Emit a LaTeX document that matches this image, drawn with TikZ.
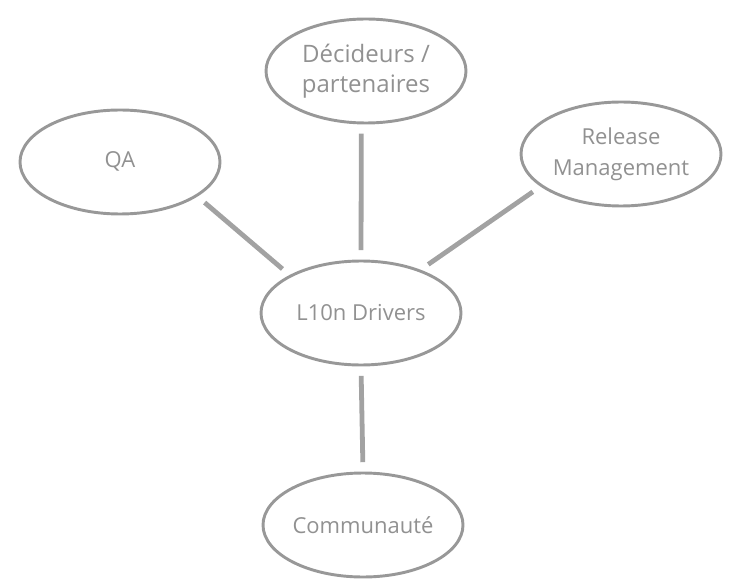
\documentclass[tikz,border=0pt]{standalone}
\usepackage{fontspec}
\setmainfont{Open Sans}
\usetikzlibrary{shapes.geometric}
\definecolor{traitgris}{RGB}{152,152,152}
\definecolor{textegris}{RGB}{145,145,145}
\begin{document}
\begin{tikzpicture}[x=0.75pt,y=-0.75pt,
bulle/.style={ ellipse,minimum width=150pt,minimum height=78pt,inner sep=0pt,line width=2.2pt,draw=traitgris,text=textegris,align=center,font=\fontsize{16.5}{23}\selectfont,
}]
\useasboundingbox (0,0) rectangle (737,584);
\node[bulle](qa) at (120,162){\raisebox{3pt}{QA}};
\node[bulle,font=\fontsize{18}{22.5}\selectfont](decideurs) at (366,71){Décideurs /\\partenaires};
\node[bulle](release) at (621,154){Release\\Management};

\node[bulle](drivers) at (361,313){L10n Drivers};

\node[bulle](communaute) at (363,525){Communauté};

\begin{scope}[line width=3.6pt, draw=traitgris!90!white, shorten <=7pt, shorten >=7pt]
\draw (qa.-24)--(drivers.152);
\draw (decideurs.265)--(drivers.north);
\draw (release.-158)--(drivers.36);
\draw (drivers.south)--(communaute.north);
\end{scope}
\end{tikzpicture}
\end{document}
